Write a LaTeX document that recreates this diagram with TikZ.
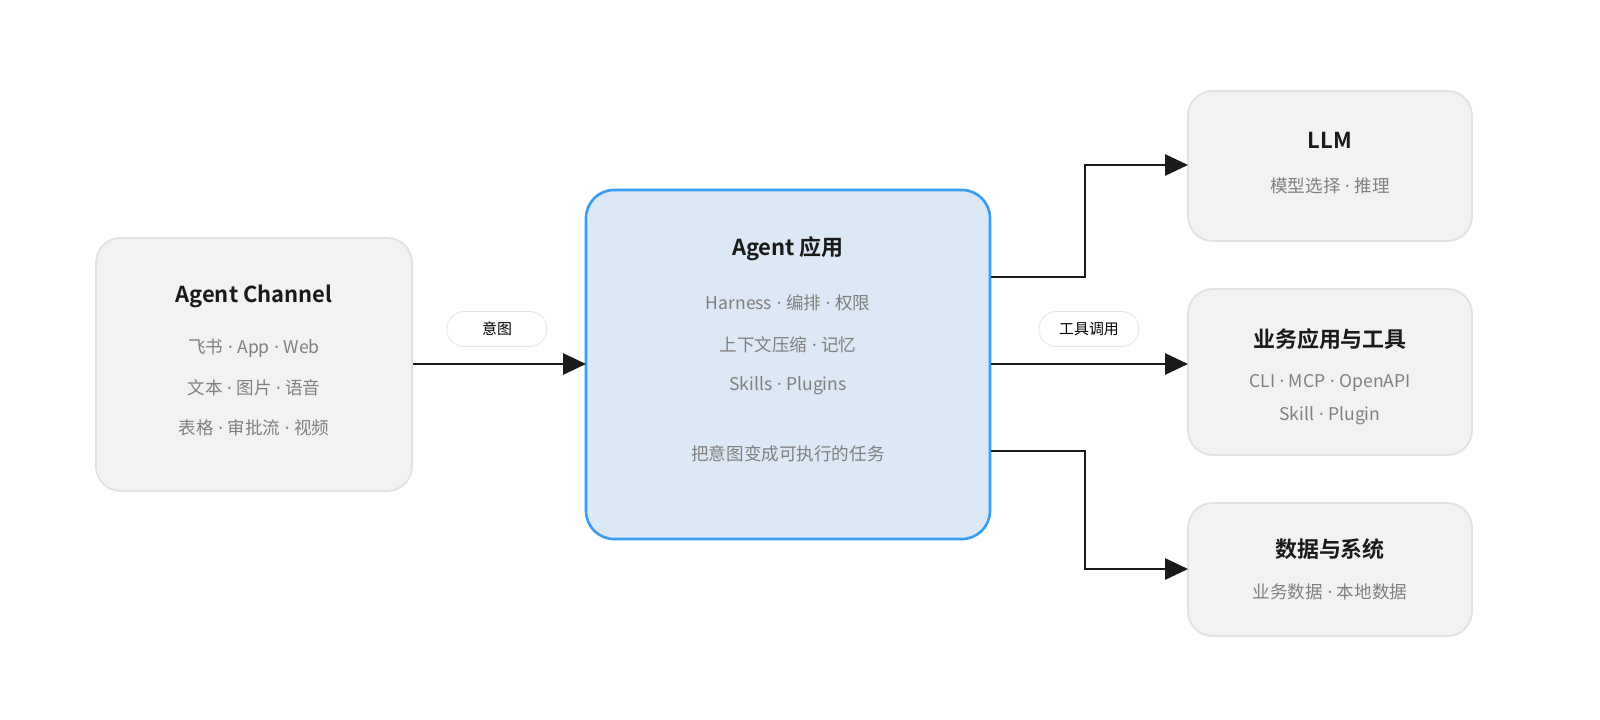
\documentclass[tikz,border=0pt]{standalone}
\usepackage{fontspec}
\setmainfont{Noto Sans CJK SC}[BoldFont={Noto Sans CJK SC Bold}]
\newfontfamily\latf{Noto Sans}
\newcommand\md{{\latf\ ·\ }}
\usetikzlibrary{arrows.meta}
\definecolor{gbg}{HTML}{F2F2F2}
\definecolor{gbd}{HTML}{E2E2E2}
\definecolor{bbg}{HTML}{DCE8F5}
\definecolor{bbd}{HTML}{3B9CF0}
\definecolor{txt}{HTML}{1A1A1A}
\definecolor{sub}{HTML}{808080}
\begin{document}
\begin{tikzpicture}[x=0.02cm,y=-0.02cm,
 box/.style={draw=gbd,fill=gbg,line width=1pt,rounded corners=14pt},
 ttl/.style={font=\fontsize{12.5}{14}\selectfont\bfseries,text=txt},
 sb/.style={font=\fontsize{10}{12}\selectfont,text=sub},
 pill/.style={draw=gbd,fill=white,rounded corners=10pt,minimum width=57pt,minimum height=20pt,font=\fontsize{8.5}{10}\selectfont,text=black},
 arr/.style={line width=1.3pt,draw=txt,-{Triangle[length=13pt,width=12pt]}}]
\fill[white] (0,0) rectangle (1600,720);
\draw[box] (96,238) rectangle (412,491);
\node[ttl] (cht) at (254,296) {Agent Channel};
\node[sb] at (254,348) {飞书\md App\md Web};
\node[sb] at (254,388) {文本\md 图片\md 语音};
\node[sb] at (254,428) {表格\md 审批流\md 视频};
\draw[draw=bbd,fill=bbg,line width=1.5pt,rounded corners=16pt] (586,190) rectangle (990,539);
\node[ttl] at (788,249) {Agent 应用};
\node[sb] at (788,303) {Harness\md 编排\md 权限};
\node[sb] at (788,345) {上下文压缩\md 记忆};
\node[sb] at (788,386) {Skills\md Plugins};
\node[sb] at (788,454) {把意图变成可执行的任务};
\draw[box] (1188,91) rectangle (1472,241);
\node[ttl] at (1330,140) {LLM};
\node[sb] at (1330,186) {模型选择\md 推理};
\draw[box] (1188,289) rectangle (1472,455);
\node[ttl] at (1330,339) {业务应用与工具};
\node[sb] at (1330,383) {CLI\md MCP\md OpenAPI};
\node[sb] at (1330,416) {Skill\md Plugin};
\draw[box] (1188,503) rectangle (1472,636);
\node[ttl] at (1330,549) {数据与系统};
\node[sb] at (1330,592) {业务数据\md 本地数据};
\coordinate (a1) at (413,364); \coordinate (a2) at (586,364);
\draw[arr] (a1) -- (a2);
\node[pill] (p1) at (497,329) {意图};
\coordinate (b1) at (991,277); \coordinate (b2) at (1188,165);
\draw[arr] (b1) -- (1085,277) -- (1085,165) -- (b2);
\coordinate (c1) at (991,364); \coordinate (c2) at (1188,364);
\draw[arr] (c1) -- (c2);
\node[pill] (p2) at (1089,329) {工具调用};
\coordinate (d1) at (991,451); \coordinate (d2) at (1188,569);
\draw[arr] (d1) -- (1085,451) -- (1085,569) -- (d2);
\pgfresetboundingbox
\path[use as bounding box] (0,0) rectangle (1600,720);
\end{tikzpicture}
\end{document}
